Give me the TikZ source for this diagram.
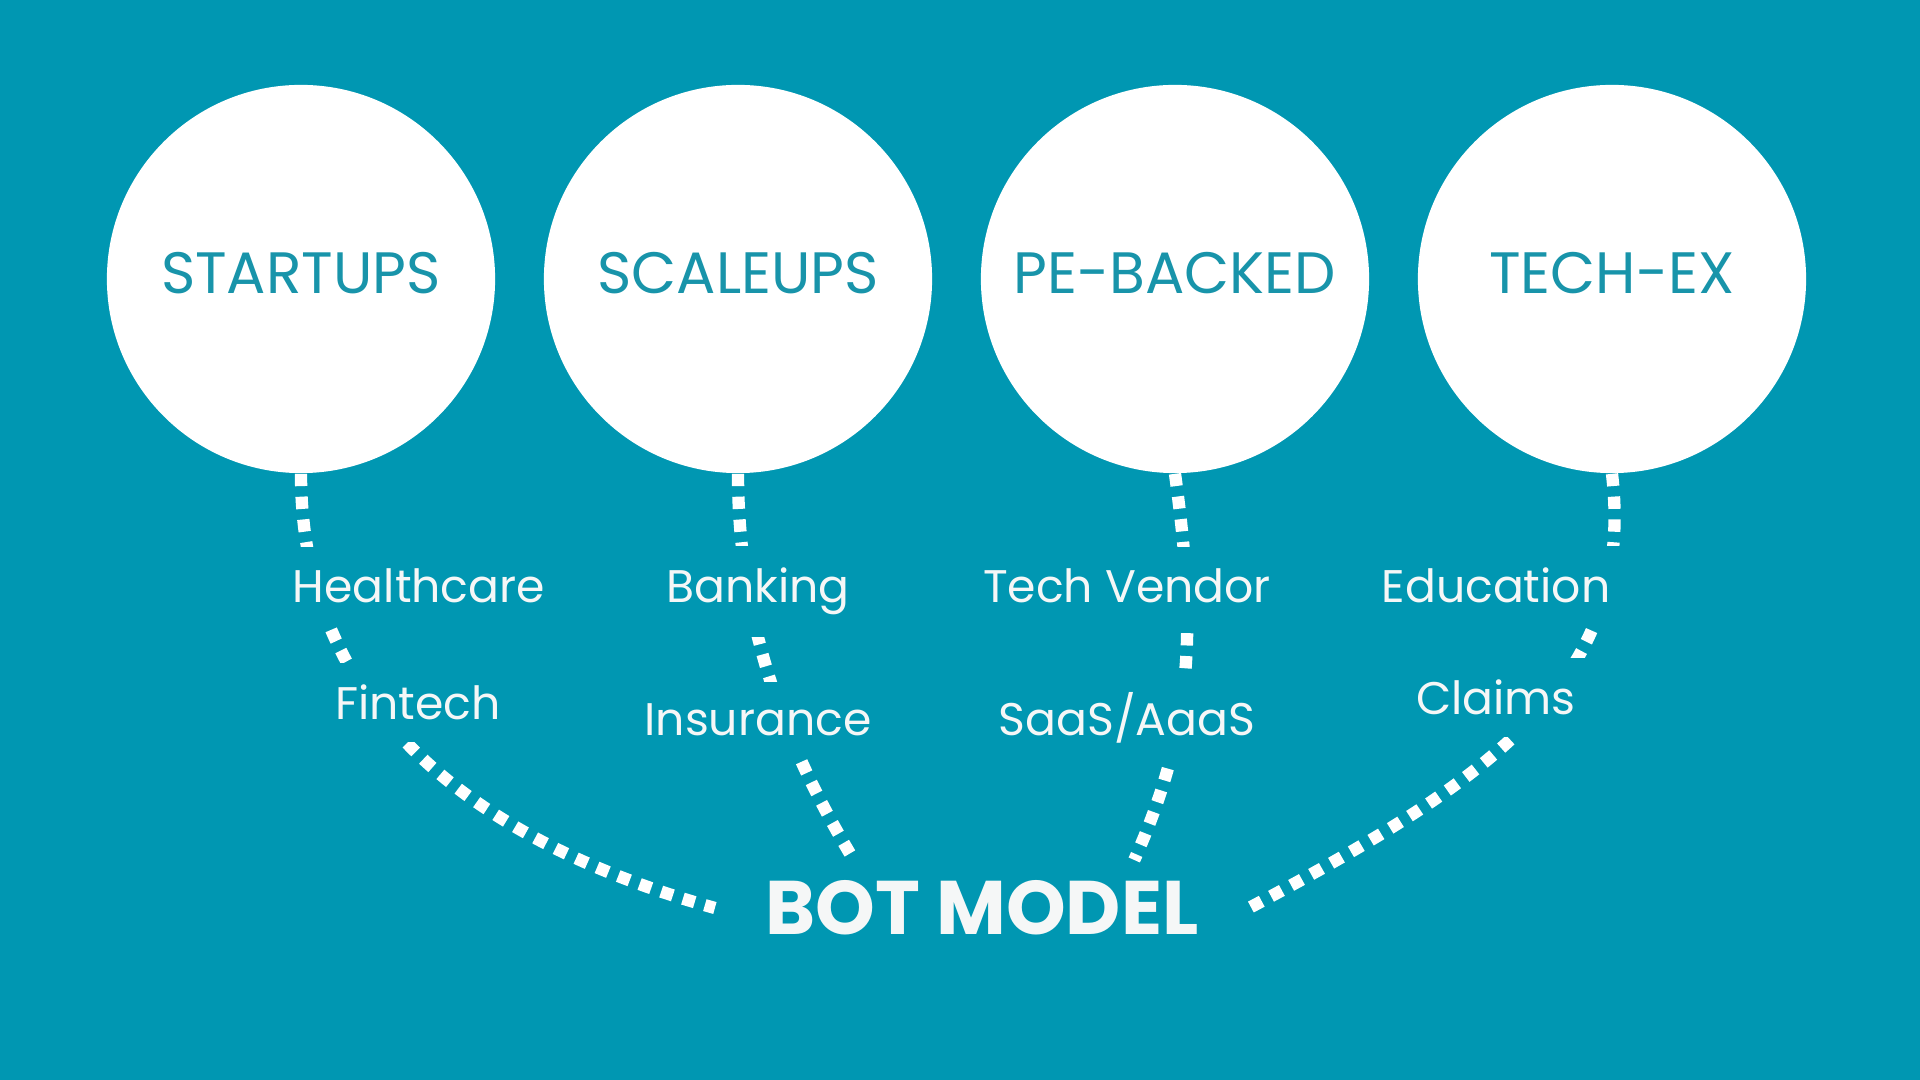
\documentclass[tikz,border=0pt]{standalone}
\usepackage{fontspec}
\setmainfont{Poppins}
\usetikzlibrary{calc}
\definecolor{botbg}{HTML}{0097B2}
\definecolor{bottxt}{HTML}{1894AA}
\definecolor{botwhite}{HTML}{F5F7F7}

\begin{document}
\begin{tikzpicture}[x=0.01cm, y=-0.01cm,
  segment/.style={circle, fill=white, minimum size=3.88cm, inner sep=0pt, text depth=0.12cm,
    text=bottxt, font=\fontsize{16.6}{19}\selectfont},
  sector/.style={fill=botbg, inner sep=0.22cm, anchor=base, text=botwhite,
    font=\fontsize{13}{16}\selectfont},
  bigword/.style={inner xsep=0.5cm, inner ysep=0.2cm, text=botwhite,
    font=\fontsize{21.6}{26}\selectfont\bfseries},
  dotline/.style={draw=white, line width=3.5pt, dash pattern=on 3.5pt off 3pt}]

% ---- Background ----
\fill[botbg] (0,0) rectangle (1920,1080);

% ---- Company stages (circles) ----
\foreach \nm/\xp/\lab in {c1/301/STARTUPS, c2/738/SCALEUPS, c3/1175/PE-BACKED, c4/1612/TECH-EX}{
  \node[segment] (\nm) at (\xp,279) {\lab};
}

% ---- Centre word ----
\node[bigword] (bot) at (982,908) {BOT MODEL};

% ---- Dotted connectors: circle down to BOT MODEL ----
\draw[dotline] (c1.south) .. controls +(0,227) and +(-252,-70) .. (bot.west);
\draw[dotline] (c2.south) .. controls +(0,180) and +(-45,-75) .. ($(bot.north west)!0.26!(bot.north east)$);
\draw[dotline] (c3.south) .. controls +(20,147) and +(62,-138) .. ($(bot.north west)!0.785!(bot.north east)$);
\draw[dotline] (c4.south) .. controls +(24,207) and +(241,-128) .. (bot.east);

% ---- Sector labels (sit on top of the dots) ----
\node[sector] (hc) at (419,603) {Healthcare};
\node[sector] (ft) at (418,720) {Fintech};
\node[sector] (bk) at (758,603) {Banking};
\node[sector] (ins) at (758,736) {Insurance};
\node[sector] (tv) at (1127,603) {Tech Vendor};
\node[sector] (saas) at (1127,736) {SaaS/AaaS};
\node[sector] (edu) at (1496,603) {Education};
\node[sector] (clm) at (1496,715) {Claims};

\end{tikzpicture}
\end{document}
